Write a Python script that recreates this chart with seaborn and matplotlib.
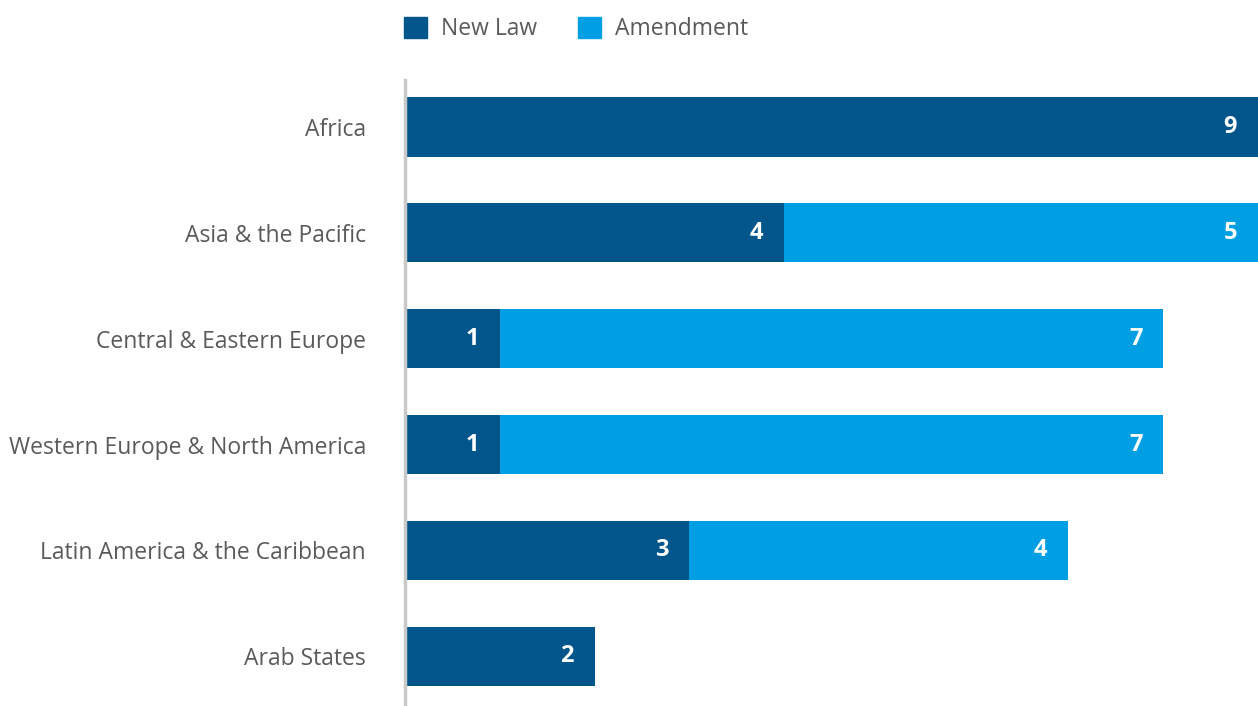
import numpy as np
import matplotlib.pyplot as plt
import seaborn as sns
import pandas as pd
from matplotlib.patches import Patch

regions = ['Africa', 'Asia & the Pacific', 'Central & Eastern Europe',
           'Western Europe & North America', 'Latin America & the Caribbean', 'Arab States']
new_law = [9, 4, 1, 1, 3, 2]
amendment = [0, 5, 7, 7, 4, 0]

dark = '#00558A'
light = '#009FE3'
grey = '#5a5a5a'

sns.set_style('white')
plt.rcParams['font.family'] = ['Open Sans', 'DejaVu Sans']

df = pd.DataFrame({'Region': regions, 'New Law': new_law, 'Amendment': amendment})
df['Total'] = df['New Law'] + df['Amendment']

fig = plt.figure(figsize=(12.58, 7.06), dpi=100)
ax = fig.add_axes([405 / 1258, 0.0, 1 - 405 / 1258, (706 - 80) / 706])

# stacked: draw total in light colour, then new law on top
sns.barplot(data=df, y='Region', x='Total', color=light, orient='h', width=0.56,
            saturation=1, linewidth=0, ax=ax)
sns.barplot(data=df, y='Region', x='New Law', color=dark, orient='h', width=0.56,
            saturation=1, linewidth=0, ax=ax)

ax.set_xlim(0, 9)
ax.set_ylim(5.47, -0.444)
ax.set_xlabel('')
ax.set_ylabel('')
ax.set_xticks([])
ax.tick_params(axis='y', length=0, pad=28, labelsize=16.5, labelcolor=grey)
for s in ['top', 'right', 'bottom']:
    ax.spines[s].set_visible(False)
ax.spines['left'].set_color('#c8c8c8')
ax.spines['left'].set_linewidth(2.5)
ax.spines['left'].set_zorder(5)

# value labels
for i, (n, a) in enumerate(zip(new_law, amendment)):
    if n:
        ax.annotate(str(n), (n, i), xytext=(-15, 0), textcoords='offset points',
                    ha='right', va='center', color='white', fontsize=17, fontweight='bold')
    if a:
        ax.annotate(str(a), (n + a, i), xytext=(-15, 0), textcoords='offset points',
                    ha='right', va='center', color='white', fontsize=17, fontweight='bold')

handles = [Patch(color=dark, label='New Law'), Patch(color=light, label='Amendment')]
fig.legend(handles=handles, loc='upper center', bbox_to_anchor=(576 / 1258, 1.005),
           ncol=2, frameon=False, fontsize=16.5, labelcolor=grey,
           handlelength=1.0, handleheight=1.0, handletextpad=0.6, columnspacing=1.8)

plt.savefig('out.png', dpi=100)
